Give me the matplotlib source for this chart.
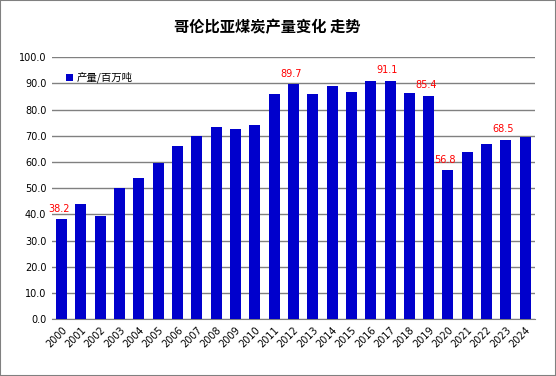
import matplotlib
matplotlib.use("Agg")
import matplotlib.pyplot as plt
from matplotlib.patches import Rectangle

plt.rcParams['font.family'] = ['Noto Sans CJK SC', 'DejaVu Sans']

years = [str(y) for y in range(2000, 2025)]
output = [38.2, 44.0, 39.4, 50.1, 53.9, 59.7, 66.1, 70.1, 73.4, 72.6, 74.1,
          86.0, 89.7, 86.0, 89.0, 86.8, 91.0, 91.1, 86.4, 85.4, 56.8,
          63.9, 66.9, 68.5, 69.7]
labeled = ['2000', '2012', '2017', '2019', '2020', '2023']

fig = plt.figure(figsize=(5.56, 3.76), dpi=100)
ax = fig.add_axes([0.0935, 0.151, 0.8685, 0.6966])

x = range(len(years))
ax.bar(x, output, width=0.57, color='#0000CC', label='产量/百万吨', zorder=3)

for i, (yr, v) in enumerate(zip(years, output)):
    if yr in labeled:
        ax.annotate(f'{v:.1f}', (i, v), xytext=(-2, 4), textcoords='offset points',
                    ha='center', va='bottom', color='#FF0000', fontsize=7,
                    family='DejaVu Sans')

ax.set_xlim(-0.5, len(years) - 0.5)
ax.set_ylim(0, 100)
ax.set_yticks(range(0, 101, 10))
ax.set_yticklabels([f'{t:.1f}' for t in range(0, 101, 10)], fontsize=7,
                   family='DejaVu Sans')
ax.set_xticks(list(x))
ax.set_xticklabels(years, rotation=45, ha='right', rotation_mode='anchor',
                   fontsize=7, family='DejaVu Sans')
ax.tick_params(length=0, pad=4)
ax.grid(axis='y', color='#808080', linewidth=1, zorder=0)
for s in ['top', 'right', 'left']:
    ax.spines[s].set_visible(False)
ax.spines['bottom'].set_color('#808080')

ax.legend(loc='upper left', bbox_to_anchor=(0.01, 0.98), frameon=False,
          fontsize=7.5, handlelength=0.7, handleheight=0.7, handletextpad=0.3)

fig.text(0.481, 0.928, '哥伦比亚煤炭产量变化 走势', ha='center', va='center',
         fontsize=11, fontweight='bold')

fig.patches.append(Rectangle((0, 0), 1, 1, transform=fig.transFigure,
                             fill=False, edgecolor='#808080', linewidth=1.5))

fig.savefig('out.png', dpi=100)
